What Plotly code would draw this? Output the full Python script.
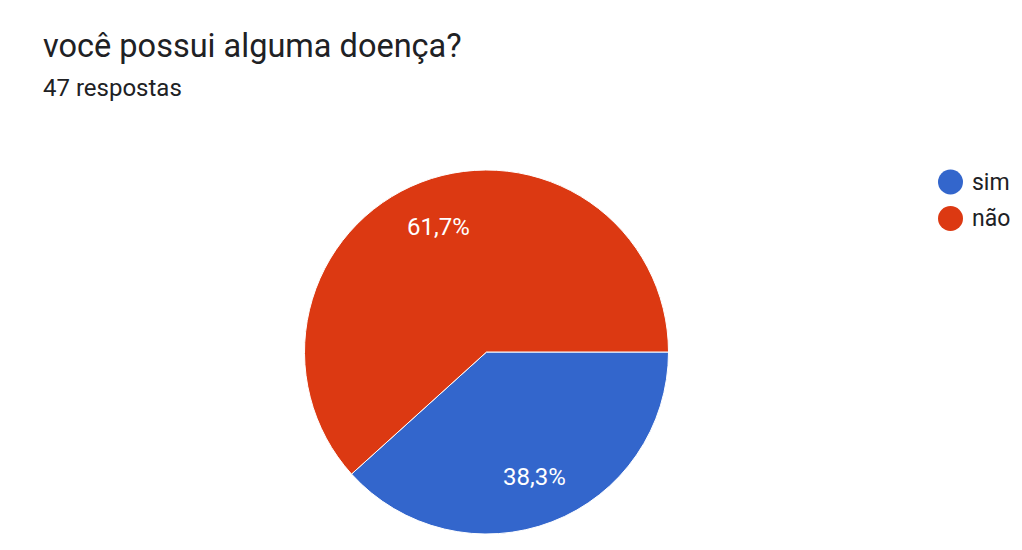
import numpy as np
import plotly.graph_objects as go

# Survey answers
categories = ["sim", "não"]
counts = [18, 29]
colors = ["#3366cc", "#dc3912"]
title_text = "você possui alguma doença?"
subtitle_text = "47 respostas"

W, H = 1022, 550
cx, cy, r = 486.5, 352, 182  # pie centre / radius in pixels (from top-left)
TEXT = "#202124"

fig = go.Figure()

fig.add_trace(go.Pie(
    labels=categories,
    values=counts,
    sort=False,
    direction="clockwise",
    rotation=90,
    marker=dict(colors=colors, line=dict(color="white", width=1)),
    textinfo="none",
    hoverinfo="label+percent",
    showlegend=False,
    domain=dict(x=[(cx - r) / W, (cx + r) / W],
                y=[(H - cy - r) / H, (H - cy + r) / H]),
))

# Percent labels at the mid-angle of each slice
vals = np.array(counts, dtype=float)
frac = vals / vals.sum()
start = 90.0
for f in frac:
    mid = np.deg2rad(start + f * 180.0)  # compass angle, clockwise from north
    px = cx + 0.735 * r * np.sin(mid)
    py = cy - 0.735 * r * np.cos(mid)
    fig.add_annotation(
        x=px / W, y=1 - py / H, xref="paper", yref="paper",
        text=f"{f * 100:.1f}%".replace(".", ","),
        showarrow=False, font=dict(family="Roboto", size=24, color="white"),
        xanchor="center", yanchor="middle",
    )
    start += f * 360.0

# Legend: round swatch + label per category
leg_x, leg_y0, leg_dy = 950.5, 182, 36.5
for i, (name, col) in enumerate(zip(categories, colors)):
    yy = 1 - (leg_y0 + i * leg_dy) / H
    fig.add_shape(
        type="circle", xref="paper", yref="paper",
        xsizemode="pixel", ysizemode="pixel",
        xanchor=leg_x / W, yanchor=yy,
        x0=-12.5, x1=12.5, y0=-12.5, y1=12.5,
        fillcolor=col, line=dict(width=0),
    )
    fig.add_annotation(
        x=(leg_x + 19) / W, y=yy, xref="paper", yref="paper",
        text=name, showarrow=False, xanchor="left", yanchor="middle",
        font=dict(family="Roboto", size=23, color=TEXT),
    )

fig.add_annotation(
    x=41 / W, y=1 - 45.5 / H, xref="paper", yref="paper",
    text=title_text, showarrow=False, xanchor="left", yanchor="middle",
    font=dict(family="Roboto", size=32.5, color=TEXT),
)
fig.add_annotation(
    x=41 / W, y=1 - 88.5 / H, xref="paper", yref="paper",
    text=subtitle_text, showarrow=False, xanchor="left", yanchor="middle",
    font=dict(family="Roboto", size=24, color=TEXT),
)

fig.update_layout(
    width=W, height=H,
    margin=dict(l=0, r=0, t=0, b=0),
    paper_bgcolor="white", plot_bgcolor="white",
    showlegend=False,
)

fig.write_html("out.html")
